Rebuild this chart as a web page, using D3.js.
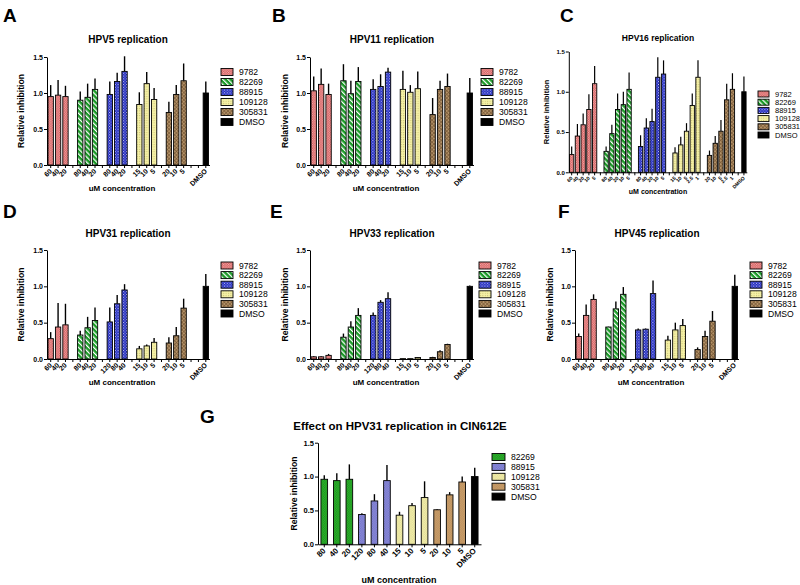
<!DOCTYPE html>
<html><head><meta charset="utf-8">
<script src="https://cdn.jsdelivr.net/npm/d3@7"></script>
<style>body{margin:0;background:#fff;} svg{display:block;font-family:"Liberation Sans",Arial,sans-serif;}</style>
</head><body><svg id="chart" width="800" height="585"></svg>
<script>
// ---------------- DATA ----------------
const compounds = ["9782", "82269", "88915", "109128", "305831", "DMSO"];
const cinCompounds = ["82269", "88915", "109128", "305831", "DMSO"];
const yTicks = [0, 0.5, 1.0, 1.5];

// HPV5
const hpv5Doses = [["60","40","20"],["80","40","20"],["80","40","20"],["15","10","5"],["20","10","5"],["DMSO"]];
const hpv5Mean  = [[0.95,0.97,0.95],[0.90,0.94,1.05],[0.98,1.16,1.30],[0.84,1.13,0.91],[0.73,0.98,1.17],[1.00]];
const hpv5Err   = [[0.16,0.21,0.15],[0.12,0.19,0.15],[0.18,0.12,0.21],[0.17,0.16,0.16],[0.15,0.13,0.24],[0.16]];

// HPV11
const hpv11Doses = [["60","40","20"],["80","40","20"],["80","40","20"],["15","10","5"],["20","10","5"],["DMSO"]];
const hpv11Mean  = [[1.03,1.12,0.98],[1.17,0.99,1.16],[1.05,1.09,1.29],[1.05,1.01,1.06],[0.70,1.05,1.09],[1.00]];
const hpv11Err   = [[0.20,0.22,0.15],[0.23,0.18,0.20],[0.14,0.17,0.06],[0.26,0.10,0.24],[0.23,0.12,0.18],[0.21]];

// HPV16
const hpv16Doses = [["60","40","20","10","5"],["80","40","20","10","5"],["80","40","20","10","5"],["15","10","5","2.5","1"],["20","10","5","2.5","1"],["DMSO"]];
const hpv16Mean  = [[0.22,0.45,0.59,0.78,1.10],[0.26,0.48,0.78,0.84,1.03],[0.32,0.55,0.63,1.18,1.22],[0.24,0.34,0.51,0.83,1.18],[0.21,0.36,0.51,0.90,1.03],[1.00]];
const hpv16Err   = [[0.10,0.15,0.14,0.19,0.22],[0.06,0.11,0.20,0.16,0.21],[0.14,0.12,0.16,0.25,0.17],[0.07,0.10,0.10,0.15,0.21],[0.06,0.09,0.14,0.20,0.20],[0.19]];

// HPV31
const hpv31Doses = [["60","40","20"],["80","40","20"],["120","80","40"],["15","10","5"],["20","10","5"],["DMSO"]];
const hpv31Mean  = [[0.28,0.44,0.47],[0.33,0.43,0.53],[0.51,0.76,0.95],[0.14,0.18,0.23],[0.22,0.32,0.70],[1.00]];
const hpv31Err   = [[0.09,0.33,0.29],[0.06,0.15,0.18],[0.20,0.12,0.08],[0.04,0.02,0.06],[0.08,0.12,0.13],[0.17]];

// HPV33
const hpv33Doses = [["60","40","20"],["80","40","20"],["120","80","40"],["15","10","5"],["20","10","5"],["DMSO"]];
const hpv33Mean  = [[0.03,0.03,0.05],[0.30,0.44,0.60],[0.60,0.78,0.83],[0.005,0.005,0.02],[0.02,0.10,0.20],[1.00]];
const hpv33Err   = [[0.01,0.01,0.02],[0.05,0.08,0.10],[0.04,0.03,0.09],[0.003,0.003,0.006],[0.01,0.02,0.01],[0.01]];

// HPV45
const hpv45Doses = [["60","40","20"],["80","40","20"],["120","80","40"],["15","10","5"],["20","10","5"],["DMSO"]];
const hpv45Mean  = [[0.31,0.60,0.82],[0.44,0.69,0.89],[0.40,0.41,0.90],[0.26,0.40,0.46],[0.13,0.31,0.52],[1.00]];
const hpv45Err   = [[0.04,0.15,0.07],[0.005,0.10,0.10],[0.02,0.01,0.18],[0.06,0.10,0.09],[0.03,0.08,0.14],[0.16]];

// HPV31 in CIN612E
const cinDoses = [["80","40","20"],["120","80","40"],["15","10","5"],["20","10","5"],["DMSO"]];
const cinMean  = [[0.96,0.94,0.96],[0.44,0.64,0.94],[0.43,0.57,0.69],[0.51,0.73,0.92],[1.00]];
const cinErr   = [[0.06,0.11,0.22],[0.02,0.10,0.23],[0.05,0.04,0.24],[0.01,0.04,0.08],[0.13]];

// ---------------- DRAWING ----------------
const FONT = '"Liberation Sans", Arial, sans-serif';
const svg = d3.select("#chart");
svg.append("rect").attr("width", 800).attr("height", 585).attr("fill", "#fff");
const defs = svg.append("defs");

function pat(id, size, base, rot, extra) {
  const p = defs.append("pattern").attr("id", id).attr("patternUnits", "userSpaceOnUse")
    .attr("width", size).attr("height", size);
  if (rot) p.attr("patternTransform", `rotate(${rot})`);
  p.append("rect").attr("width", size).attr("height", size).attr("fill", base);
  extra(p, size);
}
function checker(col, op, frac) {
  frac = frac || 0.5;
  return (p, s) => {
    const w = s * frac;
    p.append("rect").attr("width", w).attr("height", w).attr("fill", col).attr("opacity", op);
    p.append("rect").attr("x", s / 2).attr("y", s / 2).attr("width", w).attr("height", w).attr("fill", col).attr("opacity", op);
  };
}
pat("p9782", 2.4, "#d85a5a", 0, checker("#fff", 0.55, 0.45));
pat("p82269", 3.6, "#1a9a26", -45, (p, s) => p.append("rect").attr("width", 1.2).attr("height", s).attr("fill", "#fff"));
pat("p88915", 2.8, "#1f28c0", 0, checker("#fff", 0.9, 0.32));
pat("p109128", 2.4, "#f5f1a6", 0, (p) => p.append("rect").attr("width", 1).attr("height", 1).attr("fill", "#c9c072"));
pat("p305831", 2.6, "#b39268", 45, (p, s) => {
  p.append("rect").attr("width", s).attr("height", 0.7).attr("fill", "#7a5a38");
  p.append("rect").attr("width", 0.7).attr("height", s).attr("fill", "#7a5a38");
});
pat("g82269", 2.4, "#2db52d", 0, checker("#167a16", 0.6));
pat("g88915", 2.4, "#8c8cdc", 0, checker("#6464b8", 0.6));
pat("g109128", 2.4, "#f4f0ae", 0, checker("#d6cf86", 0.6));
pat("g305831", 2.4, "#c99e6a", 0, checker("#ae8452", 0.5));

const fillsMain = ["url(#p9782)", "url(#p82269)", "url(#p88915)", "url(#p109128)", "url(#p305831)", "#000"];
const fillsCin = ["url(#g82269)", "url(#g88915)", "url(#g109128)", "url(#g305831)", "#000"];

function drawPanel(c) {
  const g = svg.append("g");
  const slots = [];
  c.doses.forEach((ds, gi) => {
    const isLast = gi === c.doses.length - 1;
    if (isLast) for (let k = 0; k < c.extraGap; k++) slots.push({ label: "" });
    ds.forEach((d, di) => slots.push({ label: d, comp: gi, value: c.mean[gi][di], err: c.err[gi][di] }));
    if (!isLast && c.groupGap) slots.push({ label: "" });
  });
  const x = d3.scaleBand().domain(slots.map((d, i) => i)).range([c.x0, c.x1])
    .paddingInner(c.pad).paddingOuter(c.pad / 2);
  const y = d3.scaleLinear().domain([0, 1.5]).range([c.yb, c.yt]);
  const bars = slots.map((d, i) => ({ ...d, i })).filter(d => d.value !== undefined);

  // error bars
  g.selectAll("line.err").data(bars).join("line")
    .attr("x1", d => x(d.i) + x.bandwidth() / 2).attr("x2", d => x(d.i) + x.bandwidth() / 2)
    .attr("y1", d => y(d.value)).attr("y2", d => y(d.value + d.err))
    .attr("stroke", "#000").attr("stroke-width", c.errW || 1.4);
  // bars
  g.selectAll("rect.bar").data(bars).join("rect")
    .attr("x", d => x(d.i)).attr("width", x.bandwidth())
    .attr("y", d => y(d.value)).attr("height", d => Math.max(0.01, c.yb - y(d.value)))
    .attr("fill", d => c.fills[d.comp]).attr("stroke", "#000").attr("stroke-width", 0.9);

  // y axis
  const ya = g.append("g").attr("transform", `translate(${c.x0},0)`)
    .call(d3.axisLeft(y).tickValues(yTicks).tickFormat(d3.format(".1f")).tickSize(3).tickSizeOuter(0));
  ya.selectAll("text").attr("font-size", c.tickFont).attr("font-family", FONT).attr("font-weight", "bold").attr("x", -4);
  // x axis
  const xa = g.append("g").attr("transform", `translate(0,${c.yb})`)
    .call(d3.axisBottom(x).tickSize(3).tickSizeOuter(0).tickFormat(i => slots[i].label));
  xa.selectAll("text").attr("font-size", c.xTickFont).attr("font-family", FONT).attr("font-weight", "bold")
    .attr("text-anchor", "end").attr("x", -3.5).attr("y", 3.5).attr("dy", "0.35em").attr("transform", "rotate(-45)");
  [ya, xa].forEach(a => { a.select(".domain").attr("stroke-width", 1); a.selectAll(".tick line").attr("stroke-width", 1); });

  // titles
  svg.append("text").attr("x", c.lx).attr("y", c.ly).text(c.letter)
    .attr("font-size", 19).attr("font-weight", "bold").attr("font-family", FONT);
  svg.append("text").attr("x", c.tx).attr("y", c.ty).text(c.title).attr("text-anchor", "middle")
    .attr("font-size", c.titleSize).attr("font-weight", "bold").attr("font-family", FONT);
  svg.append("text").attr("transform", `translate(${c.yTitleX},${(c.yb + c.yt) / 2}) rotate(-90)`)
    .attr("text-anchor", "middle").attr("dy", "0.35em").text("Relative inhibition")
    .attr("font-size", c.yTitleSize).attr("font-weight", "bold").attr("font-family", FONT);
  svg.append("text").attr("x", c.xTitleX).attr("y", c.xTitleY).attr("text-anchor", "middle").text("uM concentration")
    .attr("font-size", c.xTitleSize).attr("font-weight", "bold").attr("font-family", FONT);

  // legend
  const lg = svg.append("g");
  c.names.forEach((n, i) => {
    const cy = c.legY + i * c.legStep;
    lg.append("rect").attr("x", c.legX).attr("y", cy - c.swH / 2).attr("width", c.swW).attr("height", c.swH)
      .attr("fill", c.fills[i]).attr("stroke", "#000").attr("stroke-width", 0.9);
    lg.append("text").attr("x", c.legX + c.swW + 6).attr("y", cy).attr("dy", "0.35em").text(n)
      .attr("font-size", c.legFont).attr("font-family", FONT);
  });
}

const std = { groupGap: true, extraGap: 1, pad: 0.28, tickFont: 7, xTickFont: 7, titleSize: 10, yTitleSize: 8.6, xTitleSize: 8,
  legStep: 10, legFont: 8.6, swW: 12, swH: 7, names: compounds, fills: fillsMain };

drawPanel({ ...std, letter: "A", lx: 3, ly: 22, title: "HPV5 replication", tx: 128, ty: 43,
  doses: hpv5Doses, mean: hpv5Mean, err: hpv5Err, x0: 47, x1: 209.5, yb: 165, yt: 57,
  yTitleX: 21, xTitleX: 122, xTitleY: 191, legX: 221, legY: 72 });
drawPanel({ ...std, letter: "B", lx: 272, ly: 22, title: "HPV11 replication", tx: 392, ty: 43,
  doses: hpv11Doses, mean: hpv11Mean, err: hpv11Err, x0: 310, x1: 473.5, yb: 165, yt: 57,
  yTitleX: 285, xTitleX: 386, xTitleY: 191, legX: 481, legY: 72 });
drawPanel({ ...std, letter: "C", lx: 560, ly: 22, title: "HPV16 replication", tx: 658, ty: 41, titleSize: 8.5,
  doses: hpv16Doses, mean: hpv16Mean, err: hpv16Err, x0: 568.8, x1: 746.8, yb: 172.3, yt: 51.5,
  extraGap: 0, pad: 0.25, tickFont: 6, xTickFont: 5, yTitleSize: 7.5, xTitleSize: 7, errW: 1.2,
  yTitleX: 546, xTitleX: 658, xTitleY: 194, legX: 758, legY: 94, legStep: 8.2, legFont: 7.5, swW: 11, swH: 6 });
drawPanel({ ...std, letter: "D", lx: 3, ly: 218, title: "HPV31 replication", tx: 128, ty: 237,
  doses: hpv31Doses, mean: hpv31Mean, err: hpv31Err, x0: 47, x1: 209.5, yb: 359, yt: 250,
  yTitleX: 21, xTitleX: 122, xTitleY: 385, legX: 221, legY: 265.5, legStep: 9.6 });
drawPanel({ ...std, letter: "E", lx: 270, ly: 218, title: "HPV33 replication", tx: 392, ty: 237,
  doses: hpv33Doses, mean: hpv33Mean, err: hpv33Err, x0: 310, x1: 473.5, yb: 359, yt: 250,
  yTitleX: 285, xTitleX: 386, xTitleY: 385, legX: 479, legY: 265.5, legStep: 9.6 });
drawPanel({ ...std, letter: "F", lx: 558, ly: 218, title: "HPV45 replication", tx: 657, ty: 237,
  doses: hpv45Doses, mean: hpv45Mean, err: hpv45Err, x0: 575, x1: 738.5, yb: 359, yt: 250,
  yTitleX: 550, xTitleX: 651, xTitleY: 385, legX: 750, legY: 265.5, legStep: 9.6 });
drawPanel({ ...std, letter: "G", lx: 200, ly: 423, title: "Effect on HPV31 replication in CIN612E", tx: 400, ty: 430,
  titleSize: 11.5, groupGap: false, extraGap: 0, pad: 0.47, tickFont: 7.5, xTickFont: 8, yTitleSize: 8.6, xTitleSize: 9,
  doses: cinDoses, mean: cinMean, err: cinErr, x0: 318, x1: 481, yb: 544.3, yt: 442.7,
  yTitleX: 294, xTitleX: 399, xTitleY: 583, legX: 492, legY: 457, legStep: 9.9, legFont: 8.6, swW: 13, swH: 7,
  names: cinCompounds, fills: fillsCin });
</script></body></html>
